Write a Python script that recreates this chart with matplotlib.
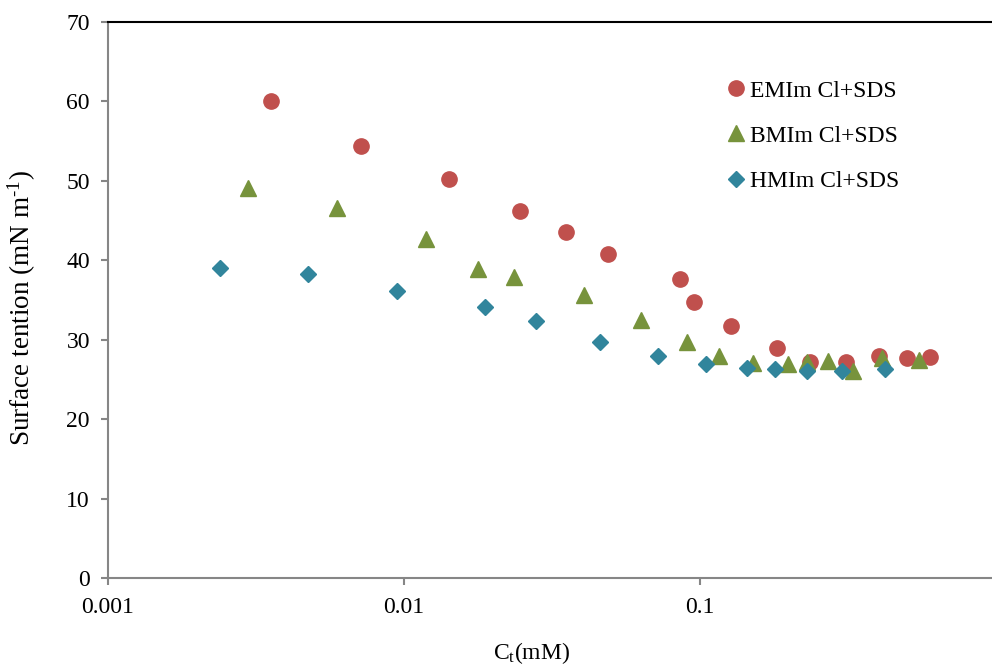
import matplotlib
matplotlib.use("Agg")
import matplotlib.pyplot as plt
from matplotlib.ticker import FixedLocator, NullLocator

# Data
emim_x = [0.00355, 0.00716, 0.0142, 0.0247, 0.0353, 0.0489, 0.0856, 0.0955, 0.127, 0.182, 0.235, 0.311, 0.402, 0.500, 0.598]
emim_y = [60.1, 54.4, 50.2, 46.2, 43.6, 40.8, 37.7, 34.7, 31.7, 29.0, 27.2, 27.2, 28.0, 27.7, 27.8]

bmim_x = [0.00297, 0.00594, 0.01187, 0.0178, 0.0235, 0.0405, 0.0632, 0.0904, 0.116, 0.151, 0.198, 0.230, 0.271, 0.329, 0.412, 0.549]
bmim_y = [49.1, 46.6, 42.7, 38.9, 37.9, 35.6, 32.5, 29.7, 28.0, 27.1, 26.9, 27.2, 27.3, 26.1, 27.7, 27.5]

hmim_x = [0.00239, 0.00474, 0.00947, 0.0188, 0.0279, 0.0459, 0.0721, 0.105, 0.144, 0.179, 0.230, 0.302, 0.422]
hmim_y = [39.0, 38.3, 36.1, 34.1, 32.4, 29.7, 27.9, 26.9, 26.4, 26.3, 26.1, 26.0, 26.3]

labels = ["EMIm Cl+SDS", "BMIm Cl+SDS", "HMIm Cl+SDS"]
x_ticks = [0.001, 0.01, 0.1]
x_ticklabels = ["0.001", "0.01", "0.1"]
y_ticks = [0, 10, 20, 30, 40, 50, 60, 70]

plt.rcParams['font.family'] = 'Liberation Serif'
plt.rcParams['mathtext.fontset'] = 'custom'
plt.rcParams['mathtext.rm'] = 'Liberation Serif'
plt.rcParams['mathtext.it'] = 'Liberation Serif:italic'

FS = 17

fig = plt.figure(figsize=(9.92, 6.66), dpi=100)
W, H = 992, 666
left, right, top, bottom = 108, 996, 22, 578
ax = fig.add_axes([left / W, 1 - bottom / H, (right - left) / W, (bottom - top) / H])

ax.plot(emim_x, emim_y, linestyle='none', marker='o', ms=11, color='#C0504D', label=labels[0])
ax.plot(bmim_x, bmim_y, linestyle='none', marker='^', ms=11, color='#77933C', label=labels[1])
ax.plot(hmim_x, hmim_y, linestyle='none', marker='D', ms=8, color='#31859C', label=labels[2])

ax.set_xscale('log')
ax.set_xlim(0.001, 1)
ax.set_ylim(0, 70)
ax.xaxis.set_major_locator(FixedLocator(x_ticks))
ax.xaxis.set_minor_locator(NullLocator())
ax.set_xticklabels(x_ticklabels)
ax.set_yticks(y_ticks)

gray = '#868686'
for s in ['left', 'bottom']:
    ax.spines[s].set_color(gray)
    ax.spines[s].set_linewidth(1.5)
ax.spines['top'].set_color('black')
ax.spines['top'].set_linewidth(1.5)
ax.spines['right'].set_visible(False)

ax.tick_params(axis='both', direction='out', length=5, width=1.5, color=gray,
               labelsize=FS, labelcolor='black')
ax.tick_params(axis='y', pad=8)
ax.tick_params(axis='x', pad=9)

fig.text(22 / W, 1 - 308 / H, "Surface tention (mN m$^{\\text{-1}}$)", fontsize=19.5,
         rotation=90, ha='center', va='center')
fig.text(532 / W, 1 - 659 / H, "C$_\\text{t}$(mM)", fontsize=FS, ha='center', va='baseline')

leg = ax.legend(loc='upper left', bbox_to_anchor=(728 / W, 1 - 80 / H), bbox_transform=fig.transFigure,
                frameon=False, fontsize=FS, handlelength=0.7, handletextpad=0.25,
                labelspacing=1.0, borderpad=0, borderaxespad=0)

fig.savefig("out.png", dpi=100)
